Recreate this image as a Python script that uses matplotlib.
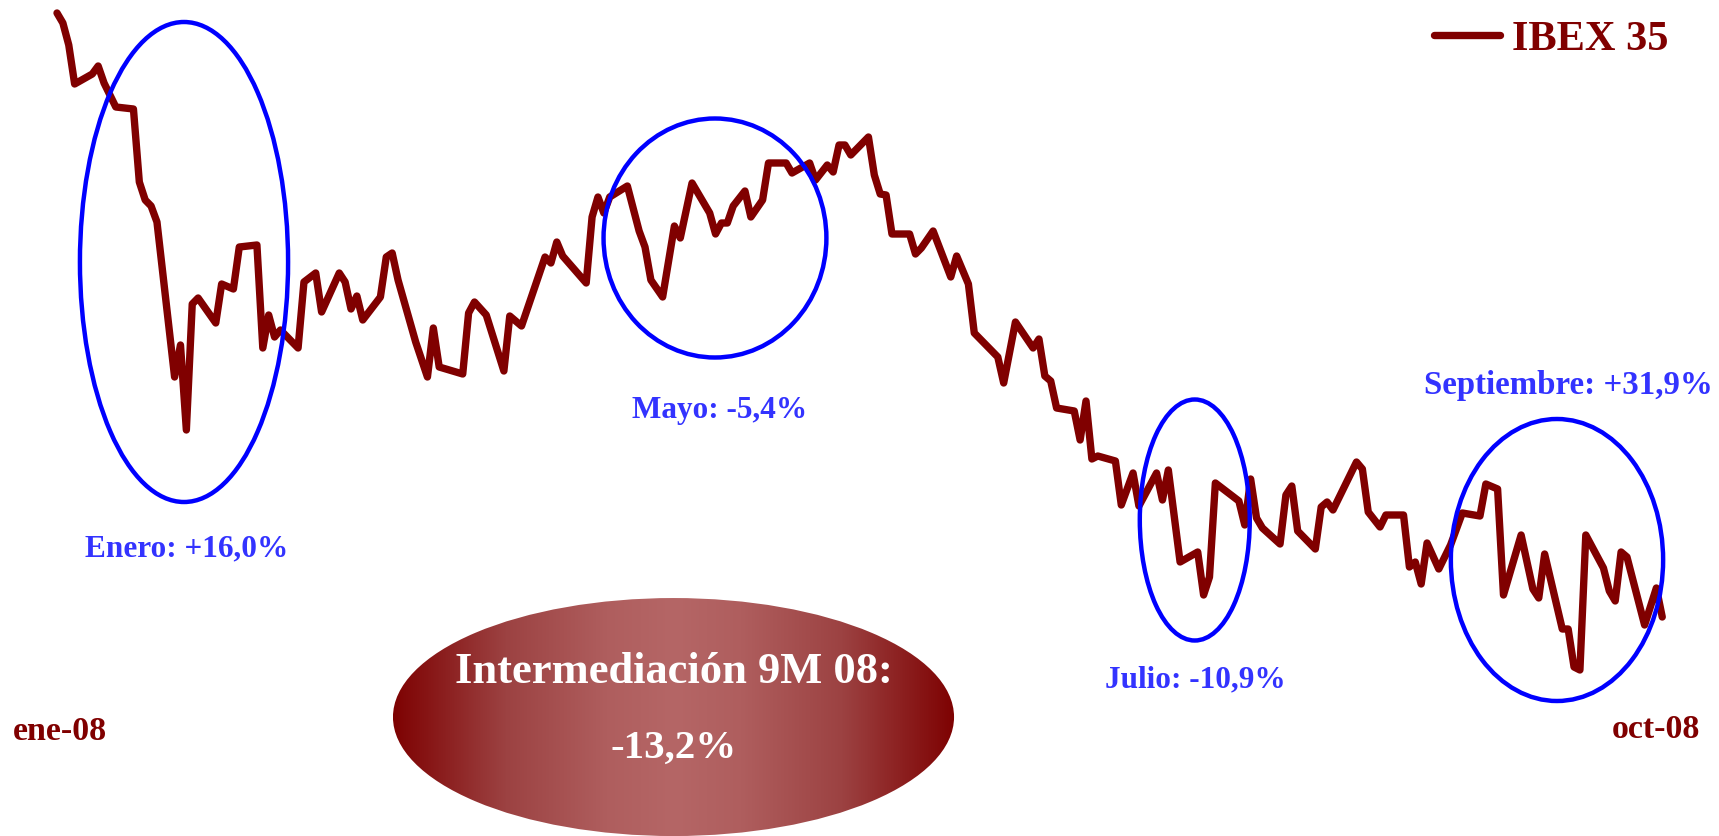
#%% IBEX 35 ene-08 / oct-08 con meses destacados
import datetime as dt
import numpy as np
import matplotlib
matplotlib.use('Agg')
import matplotlib.pyplot as plt
import matplotlib.dates as mdates
from matplotlib.patches import Ellipse
from matplotlib.colors import LinearSegmentedColormap

#%% Datos (cierres aproximados)
inicio = dt.date(2008, 1, 2)
# dias naturales desde el 2-ene-2008
dias = [0, 1, 2, 3, 6, 7, 8, 10, 13, 14,
        15, 16, 17, 20, 21, 22, 23, 24, 27, 28,
        30, 31, 34, 35, 36, 37, 38, 41, 42, 44,
        45, 48, 49, 50, 51, 52, 55, 56, 57, 58,
        61, 63, 64, 65, 69, 70, 71, 73, 76, 77,
        79, 83, 84, 85, 86, 90, 91, 92, 93, 94,
        97, 99, 100, 101, 103, 105, 106, 108, 111, 112,
        113, 114, 115, 117, 118, 120, 121, 124, 125, 128,
        129, 131, 132, 133, 134, 135, 138, 139, 140, 141,
        142, 145, 146, 147, 149, 152, 153, 155, 156, 158,
        160, 161, 163, 166, 167, 168, 169, 170, 173, 174,
        175, 176, 177, 180, 181, 183, 184, 187, 188, 189,
        191, 194, 195, 196, 197, 201, 202, 203, 204, 205,
        208, 209, 210, 211, 214, 215, 216, 217, 221, 222,
        223, 225, 226, 229, 230, 231, 232, 233, 235, 237,
        239, 242, 243, 245, 246, 249, 251, 252, 253, 256,
        257, 258, 259, 260, 263, 264, 265, 266, 267, 270,
        272, 273]
ibex = [15200, 15130, 14976, 14703, 14773, 14829, 14710, 14542, 14528, 14017,
        13891, 13849, 13737, 12652, 12876, 12281, 13163, 13205, 13030, 13303,
        13268, 13562, 13576, 12855, 13086, 12932, 12981, 12855, 13317, 13380,
        13107, 13380, 13317, 13128, 13219, 13051, 13212, 13492, 13520, 13331,
        12897, 12652, 12995, 12722, 12673, 13100, 13177, 13086, 12694, 13079,
        13009, 13492, 13450, 13597, 13499, 13310, 13772, 13912, 13800, 13912,
        13989, 13674, 13562, 13331, 13212, 13709, 13625, 14010, 13800, 13653,
        13730, 13730, 13849, 13954, 13772, 13891, 14150, 14150, 14080, 14150,
        14031, 14136, 14087, 14276, 14276, 14206, 14332, 14066, 13933, 13926,
        13653, 13653, 13513, 13555, 13674, 13352, 13499, 13303, 12960, 12876,
        12792, 12610, 13037, 12855, 12918, 12659, 12624, 12435, 12414, 12211,
        12484, 12078, 12099, 12064, 11756, 11980, 11749, 11980, 11791, 12001,
        11357, 11427, 11126, 11252, 11910, 11784, 11616, 11938, 11665, 11595,
        11483, 11826, 11889, 11574, 11448, 11742, 11777, 11721, 12057, 12008,
        11707, 11602, 11686, 11686, 11322, 11357, 11203, 11490, 11308, 11476,
        11700, 11679, 11903, 11868, 11126, 11546, 11168, 11105, 11413, 10888,
        10888, 10622, 10601, 11546, 11315, 11154, 11084, 11427, 11392, 10916,
        11175, 10972]

meses = ['Enero: +16,0%', 'Mayo: -5,4%', 'Julio: -10,9%', 'Septiembre: +31,9%']
etiqueta_ini = 'ene-08'
etiqueta_fin = 'oct-08'
resumen = ['Intermediación 9M 08:', '-13,2%']

#%% Estilo
rojo = '#800000'
azul = '#3333FF'
fuente = 'Liberation Serif'

fechas = [inicio + dt.timedelta(days=d) for d in dias]
x0 = mdates.date2num(inicio)

fig = plt.figure(figsize=(17.19, 8.36), dpi=100)
ax = fig.add_axes([0, 0, 1, 1])
ax.axis('off')

linea, = ax.plot(fechas, ibex, color=rojo, lw=5.3, solid_capstyle='round',
                 label='IBEX 35', zorder=3)

# elipses azules (centro en dias, centro en puntos, ancho dias, alto puntos)
circulos = [(21.6, 13457, 35.4, 3360),
            (111.9, 13625, 37.9, 1673),
            (193.5, 11651, 18.7, 1687),
            (255.1, 11371, 36.1, 1974)]
for cx, cy, w, h in circulos:
    ax.add_patch(Ellipse((x0 + cx, cy), w, h, fill=False, ec='#0000FF',
                         lw=3.2, zorder=4))

# textos de los meses (fraccion de ejes)
pos_meses = [(0.1088, 0.3349), (0.4188, 0.5), (0.6952, 0.1782), (0.9122, 0.5287)]
tam_meses = [22.5, 22.5, 22.5, 23.7]
for txt, (px, py), fs in zip(meses, pos_meses, tam_meses):
    ax.text(px, py, txt, transform=ax.transAxes, ha='center', va='baseline',
            color=azul, fontsize=fs, fontweight='bold', family=fuente)

ax.text(0.0349, 0.1148, etiqueta_ini, transform=ax.transAxes, ha='center',
        va='baseline', color=rojo, fontsize=24.5, fontweight='bold', family=fuente)
ax.text(0.9631, 0.1172, etiqueta_fin, transform=ax.transAxes, ha='center',
        va='baseline', color=rojo, fontsize=24.5, fontweight='bold', family=fuente)

#%% Elipse con degradado
ecx, ecy, ew, eh = 0.3918, 0.1423, 0.3264, 0.2847
grad = np.linspace(0, 1, 256).reshape(1, -1)
cmap = LinearSegmentedColormap.from_list(
    'rojos', [(0.0, '#7E0202'), (0.2, '#9C4242'), (0.38, '#AF5E5E'),
              (0.5, '#B56666'), (0.62, '#AF5E5E'), (0.8, '#9C4242'),
              (1.0, '#7E0202')])
im = ax.imshow(grad, extent=[ecx - ew/2, ecx + ew/2, ecy - eh/2, ecy + eh/2],
               transform=ax.transAxes, cmap=cmap, aspect='auto', zorder=1)
elip = Ellipse((ecx, ecy), ew, eh, transform=ax.transAxes, fc='none', ec='none')
ax.add_patch(elip)
im.set_clip_path(elip)

ax.text(0.3921, 0.1830, resumen[0], transform=ax.transAxes, ha='center',
        va='baseline', color='white', fontsize=32, fontweight='bold',
        family=fuente, zorder=2)
ax.text(0.3921, 0.0933, resumen[1], transform=ax.transAxes, ha='center',
        va='baseline', color='white', fontsize=29.5, fontweight='bold',
        family=fuente, zorder=2)

#%% Leyenda
ax.legend(handles=[linea], loc='upper right', bbox_to_anchor=(1668/1719, 0.976),
          frameon=False, borderaxespad=0, borderpad=0, handlelength=1.57,
          handletextpad=0.26, labelcolor=rojo,
          prop={'family': fuente, 'weight': 'bold', 'size': 30.5})

#%% Escalas
ax.set_xlim(x0 - 57/5.88, x0 + (1719 - 57)/5.88)
ax.set_ylim(9439, 15291)

fig.savefig('out.png', dpi=100)
